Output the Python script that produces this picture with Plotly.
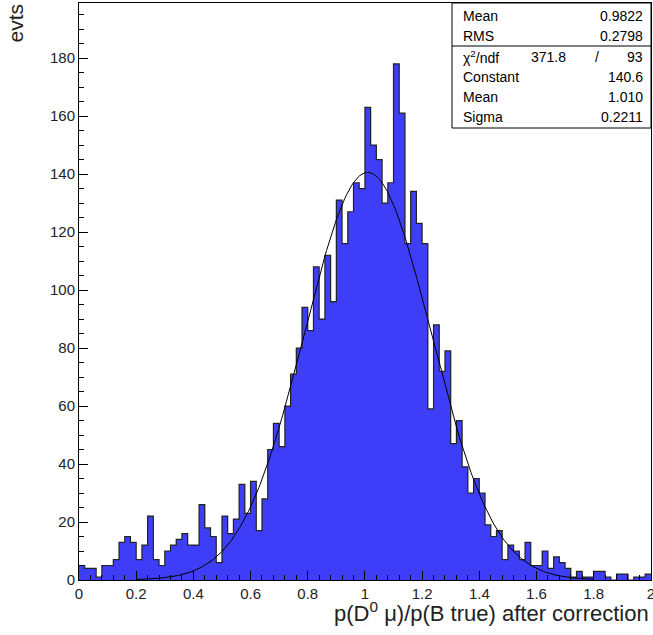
import numpy as np
import plotly.graph_objects as go

# Histogram: 100 bins from 0 to 2
x_low = 0.0
bin_width = 0.02
counts = [5, 4, 4, 1, 5, 5, 7, 13, 15, 13,
          7, 12, 22, 7, 5, 10, 12, 14, 16, 12,
          12, 26, 18, 15, 6, 22, 16, 21, 33, 23,
          34, 17, 28, 45, 54, 46, 60, 71, 80, 94,
          86, 108, 90, 112, 96, 131, 116, 127, 137, 135,
          163, 150, 145, 130, 137, 178, 161, 116, 134, 123,
          116, 59, 88, 72, 79, 47, 55, 39, 30, 35,
          30, 19, 15, 17, 7, 12, 10, 7, 13, 5,
          5, 10, 4, 8, 6, 4, 1, 3, 1, 1,
          3, 3, 1, 0, 2, 2, 0, 1, 1, 2]

# Gaussian fit parameters (from stats box)
fit_const = 140.6
fit_mean = 1.010
fit_sigma = 0.2211
fit_range = [0.2, 1.8]

stats_rows = [("Mean", "0.9822"), ("RMS", "0.2798")]
fit_rows = [("Constant", "140.6"), ("Mean", "1.010"), ("Sigma", "0.2211")]
chi2_val, ndf_val = "371.8", "93"
x_ticks = [0, 0.2, 0.4, 0.6, 0.8, 1, 1.2, 1.4, 1.6, 1.8, 2]
x_tick_text = ["0", "0.2", "0.4", "0.6", "0.8", "1", "1.2", "1.4", "1.6", "1.8", "2"]

n = len(counts)
edges = x_low + bin_width * np.arange(n + 1)
centers = edges[:-1] + bin_width / 2

fig = go.Figure()
fig.add_trace(go.Bar(x=centers, y=counts, width=bin_width,
                     marker=dict(color="rgb(62,62,248)", line=dict(width=0)),
                     showlegend=False))
fig.add_trace(go.Scatter(x=edges, y=counts + [counts[-1]], mode="lines",
                         line=dict(color="#222222", width=1.2, shape="hv"),
                         showlegend=False))
xf = np.linspace(fit_range[0], fit_range[1], 400)
yf = fit_const * np.exp(-0.5 * ((xf - fit_mean) / fit_sigma) ** 2)
fig.add_trace(go.Scatter(x=xf, y=yf, mode="lines",
                         line=dict(color="black", width=1), showlegend=False))

font = "Liberation Sans, Arial, sans-serif"
L, R, T, B = 79, 2, 3, 55
W, H = 653, 635
ph = H - T - B
pw = W - L - R

def py(ypix):
    return (H - B - ypix) / ph

def px(xpix):
    return (xpix - L) / pw

fig.update_layout(
    width=W, height=H,
    margin=dict(l=L, r=R, t=T, b=B, autoexpand=False),
    paper_bgcolor="white", plot_bgcolor="white",
    bargap=0,
    font=dict(family=font, color="#222222", size=15),
    xaxis=dict(range=[0, 2.0005], tickmode="array",
               tickvals=x_ticks, ticktext=x_tick_text,
               ticklabeloverflow="allow", automargin=False,
               ticks="inside", ticklen=9, tickwidth=1, tickcolor="black",
               minor=dict(ticks="inside", ticklen=5, dtick=0.04, tickcolor="black"),
               showline=True, linecolor="black", linewidth=1, mirror=True,
               showgrid=False, zeroline=False,
               tickfont=dict(size=15)),
    yaxis=dict(range=[0, 199], tickmode="linear", tick0=0, dtick=20,
               automargin=False,
               ticks="inside", ticklen=9, tickwidth=1, tickcolor="black",
               minor=dict(ticks="inside", ticklen=5, dtick=5, tickcolor="black"),
               showline=True, linecolor="black", linewidth=1, mirror=True,
               showgrid=False, zeroline=False,
               tickfont=dict(size=15)),
)

# Stats box
fig.add_shape(type="rect", xref="paper", yref="paper",
              x0=px(452), x1=1.0, y0=py(128), y1=1.0,
              fillcolor="white", line=dict(color="black", width=1), layer="above")
fig.add_shape(type="line", xref="paper", yref="paper",
              x0=px(452), x1=1.0, y0=py(46), y1=py(46),
              line=dict(color="black", width=1), layer="above")

row_y = [16, 36, 57, 77, 97, 117]
sfont = dict(family=font, size=14, color="black")
rows = stats_rows + [None] + fit_rows
for yp, row in zip(row_y, rows):
    if row is None:
        continue
    fig.add_annotation(xref="paper", yref="paper", x=px(461), y=py(yp),
                       text=row[0], showarrow=False, xanchor="left",
                       yanchor="middle", font=sfont)
    fig.add_annotation(xref="paper", yref="paper", x=px(645), y=py(yp),
                       text=row[1], showarrow=False, xanchor="right",
                       yanchor="middle", font=sfont)
fig.add_annotation(xref="paper", yref="paper", x=px(461), y=py(57),
                   text="χ<sup>2</sup>/ndf", showarrow=False, xanchor="left",
                   yanchor="middle", font=sfont)
fig.add_annotation(xref="paper", yref="paper", x=px(568), y=py(57),
                   text=chi2_val, showarrow=False, xanchor="right",
                   yanchor="middle", font=sfont)
fig.add_annotation(xref="paper", yref="paper", x=px(597), y=py(57),
                   text="/", showarrow=False, xanchor="center",
                   yanchor="middle", font=sfont)
fig.add_annotation(xref="paper", yref="paper", x=px(645), y=py(57),
                   text=ndf_val, showarrow=False, xanchor="right",
                   yanchor="middle", font=sfont)

# Axis titles
fig.add_annotation(xref="paper", yref="paper", x=1.0, y=py(612),
                   text="p(D<sup>0</sup> μ)/p(B true) after correction",
                   showarrow=False, xanchor="right", yanchor="middle",
                   font=dict(family=font, size=22, color="#222222"))
fig.add_annotation(xref="paper", yref="paper", x=px(15), y=py(2),
                   text="evts", textangle=-90,
                   showarrow=False, xanchor="center", yanchor="top",
                   font=dict(family=font, size=21, color="#222222"))

fig.write_html("out.html")
